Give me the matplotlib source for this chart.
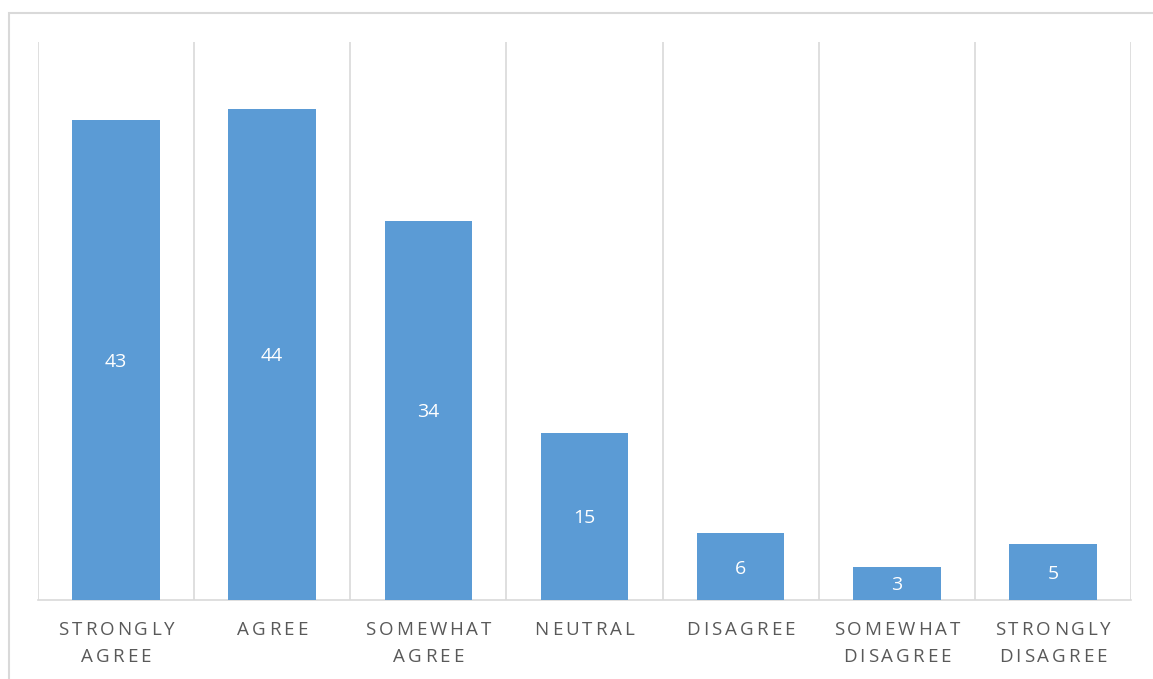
import matplotlib.pyplot as plt
from matplotlib.patches import Rectangle
from matplotlib.font_manager import findfont, FontProperties
from matplotlib.ft2font import FT2Font
import numpy as np

categories = ['STRONGLY\nAGREE', 'AGREE', 'SOMEWHAT\nAGREE', 'NEUTRAL',
              'DISAGREE', 'SOMEWHAT\nDISAGREE', 'STRONGLY\nDISAGREE']
counts = [43, 44, 34, 15, 6, 3, 5]

plt.rcParams['font.family'] = ['Open Sans', 'DejaVu Sans']

W, H = 1153, 679
fig = plt.figure(figsize=(W / 100, H / 100), dpi=100)
fig.patches.append(Rectangle((9 / W, -0.1), 1.0, 1.1 - 13 / H, transform=fig.transFigure,
                             fill=False, edgecolor='#d9d9d9', linewidth=1.5))

ax = fig.add_axes([38 / W, 1 - 600 / H, (1131 - 38) / W, (600 - 42) / H])
x = np.arange(len(categories))
bars = ax.bar(x, counts, width=0.56, color='#5b9bd5', zorder=3)

ax.set_xlim(-0.5, len(categories) - 0.5)
ax.set_ylim(0, 50)

# vertical grid at category boundaries
for b in np.arange(-0.5, len(categories)):
    ax.axvline(b, color='#d9d9d9', linewidth=1.2, zorder=1)

for s in ['top', 'right', 'left']:
    ax.spines[s].set_visible(False)
ax.spines['bottom'].set_color('#d9d9d9')
ax.spines['bottom'].set_linewidth(1.2)

ax.set_yticks([])
ax.set_xticks([])

for bar, v in zip(bars, counts):
    ax.text(bar.get_x() + bar.get_width() / 2, v / 2, str(v), ha='center',
            va='center_baseline', color='white', fontsize=14, zorder=4)

# category labels with letter spacing: one letter at a time, each letter
# centred in its own advance cell
fs = 13.5
font = FT2Font(findfont(FontProperties(family='Open Sans')))
font.set_size(fs, 100)


def adv(c):
    return font.load_char(ord(c)).linearHoriAdvance / 65536


spacing = 3
baselines = [635, 662]
for i, lab in enumerate(categories):
    cx = ax.transData.transform((i, 0))[0]
    for j, line in enumerate(lab.split('\n')):
        total = sum(adv(c) for c in line) + spacing * (len(line) - 1)
        px = cx - total / 2
        for c in line:
            fig.text((px + adv(c) / 2) / W, 1 - baselines[j] / H, c, fontsize=fs,
                     color='#595959', ha='center', va='baseline')
            px += adv(c) + spacing

fig.savefig('out.png', dpi=100)
